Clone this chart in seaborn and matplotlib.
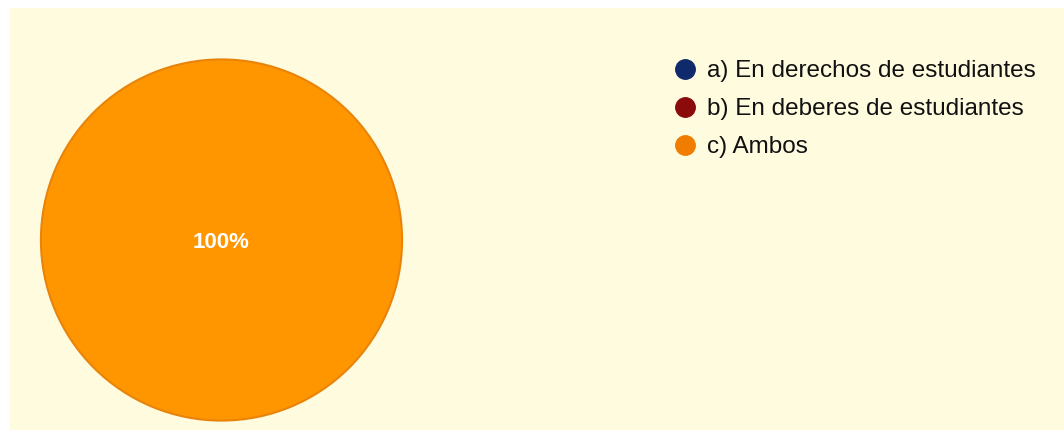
import matplotlib
matplotlib.use("Agg")
import matplotlib.pyplot as plt
import seaborn as sns
from matplotlib.lines import Line2D

sns.set_theme(style="white")
plt.rcParams['font.family'] = ['Liberation Sans', 'DejaVu Sans']

# datos de la encuesta
categorias = ['a) En derechos de estudiantes', 'b) En deberes de estudiantes', 'c) Ambos']
valores = [0, 0, 100]
colores_pie = ['#0F2A6B', '#8B0A0A', '#FF9600']
colores_leyenda = ['#0F2A6B', '#8B0A0A', '#F07D00']

W, H = 1064, 432
fig = plt.figure(figsize=(W / 100, H / 100), dpi=100, facecolor='white')

# fondo crema
bg = fig.add_axes([10 / W, 2 / H, 1 - 10 / W, (H - 10) / H])
bg.set_facecolor('#FFFBDF')
bg.set_xticks([])
bg.set_yticks([])
for s in bg.spines.values():
    s.set_visible(False)

# pastel
cx, cy, r = 221.5, 240, 181.5
ax = fig.add_axes([(cx - r) / W, (H - cy - r) / H, 2 * r / W, 2 * r / H])
ax.set_facecolor('none')


def etiqueta(p):
    return f'{p:.0f}%' if p > 0 else ''


wedges, texts, autotexts = ax.pie(
    valores, colors=colores_pie, startangle=90, counterclock=False,
    autopct=etiqueta, pctdistance=0.0, radius=0.995,
    wedgeprops=dict(edgecolor='#E8840A', linewidth=1.5),
    textprops=dict(color='white', fontsize=16, fontweight='bold'))
for t in autotexts:
    t.set_y(-0.015)
ax.set_xlim(-1, 1)
ax.set_ylim(-1, 1)
ax.set_aspect('equal')
ax.axis('off')

# leyenda
handles = [Line2D([0], [0], marker='o', linestyle='', markersize=14,
                  markerfacecolor=c, markeredgecolor=c) for c in colores_leyenda]
leg = fig.legend(handles, categorias, loc='upper left',
                 bbox_to_anchor=(673 / W, (H - 60) / H), frameon=False,
                 fontsize=17.5, handletextpad=0.38, labelspacing=0.66,
                 handlelength=1.0, borderpad=0, borderaxespad=0)
for t in leg.get_texts():
    t.set_color('#111111')

fig.savefig('out.png', dpi=100, facecolor=fig.get_facecolor())
